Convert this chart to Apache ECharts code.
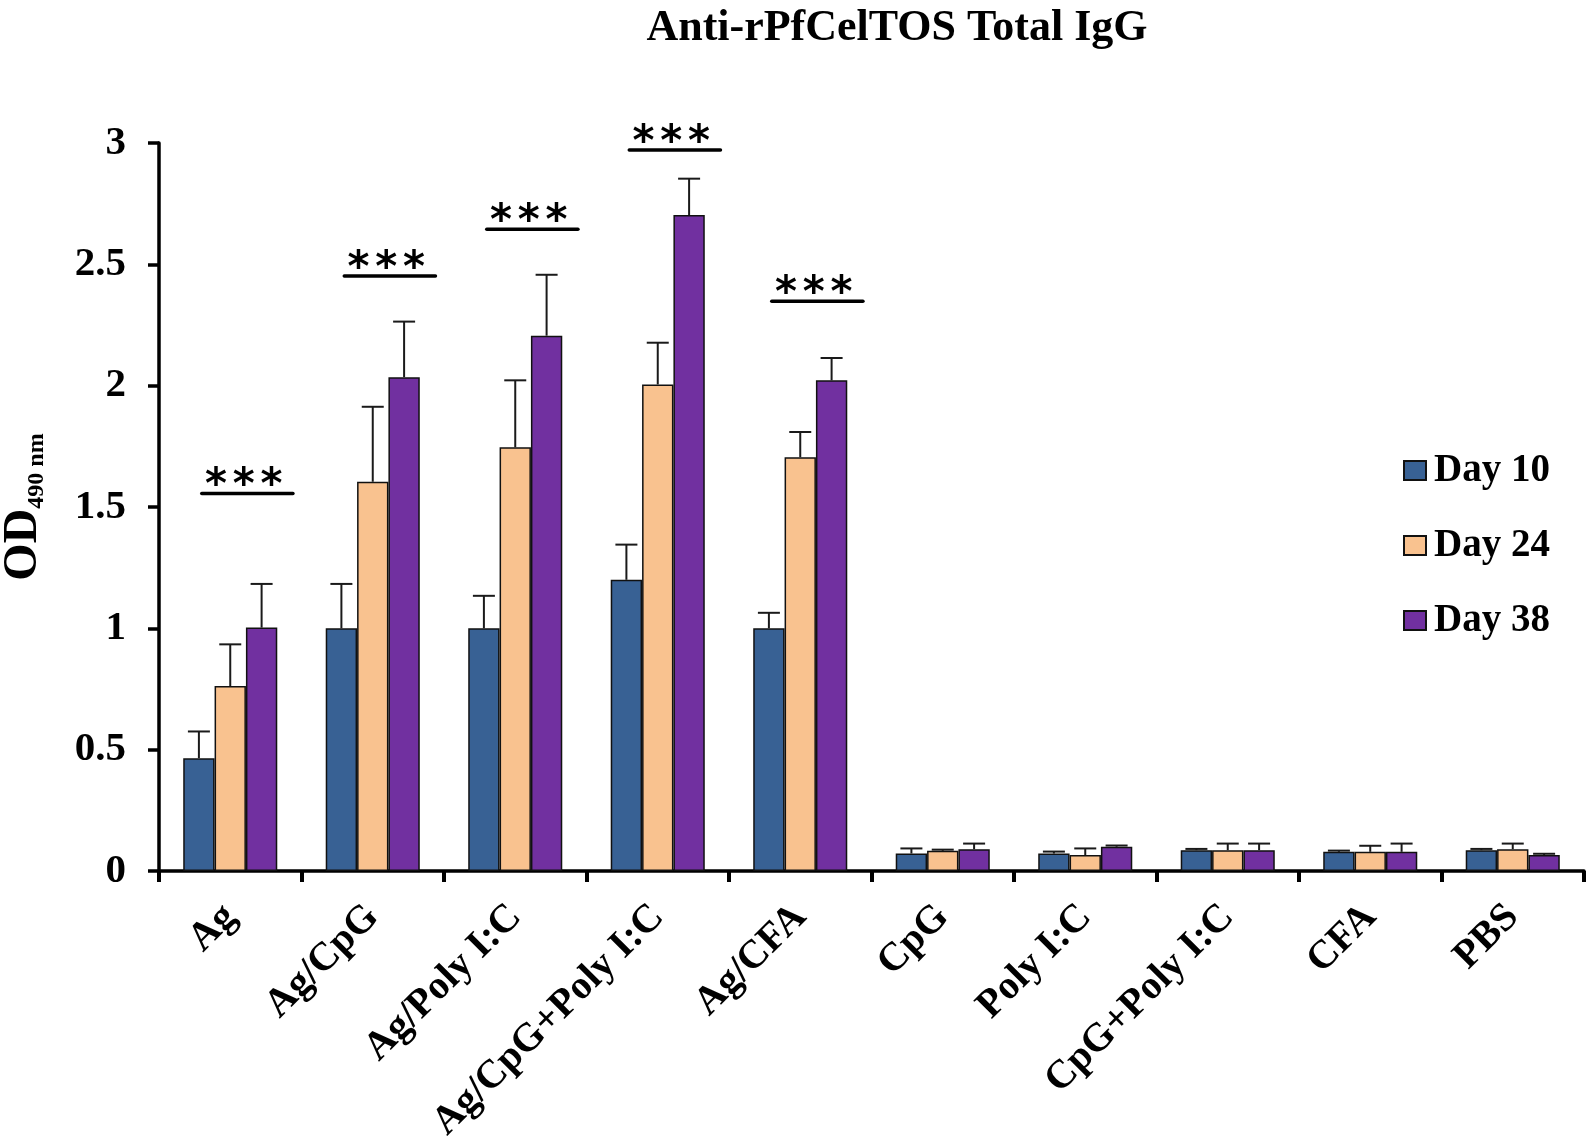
<!DOCTYPE html>
<html>
<head>
<meta charset="utf-8">
<script src="https://cdn.jsdelivr.net/npm/echarts@6/dist/echarts.min.js"></script>
<style>html,body{margin:0;padding:0;background:#fff}#c{width:1590px;height:1141px}</style>
</head>
<body>
<div id="c"></div>
<script>
var categories = ['Ag','Ag/CpG','Ag/Poly I:C','Ag/CpG+Poly I:C','Ag/CFA','CpG','Poly I:C','CpG+Poly I:C','CFA','PBS'];
var seriesNames = ['Day 10','Day 24','Day 38'];
var day10 = [0.465, 1.0, 1.0, 1.2, 1.0, 0.072, 0.072, 0.086, 0.079, 0.086];
var day24 = [0.762, 1.604, 1.746, 2.005, 1.705, 0.083, 0.066, 0.086, 0.079, 0.09];
var day38 = [1.003, 2.035, 2.206, 2.703, 2.022, 0.09, 0.1, 0.086, 0.079, 0.066];
var err10 = [0.11, 0.183, 0.134, 0.145, 0.064, 0.021, 0.008, 0.005, 0.005, 0.005];
var err24 = [0.172, 0.309, 0.276, 0.172, 0.104, 0.005, 0.027, 0.027, 0.025, 0.023];
var err38 = [0.18, 0.229, 0.251, 0.15, 0.092, 0.023, 0.005, 0.027, 0.034, 0.005];
var sigCategories = [0, 1, 2, 3, 4];
var sigLevels = [1.556, 2.452, 2.645, 2.971, 2.348];
var sigLabel = '*';
var yTicks = ['0','0.5','1','1.5','2','2.5','3'];

var colors = ['#386194', '#F9C28F', '#7130A0'];
var means = [day10, day24, day38];
var errs = [err10, err24, err38];
var CAT_GAP = 0.34;
var SERIF = '"Liberation Serif", "Times New Roman", serif';

var chart = echarts.init(document.getElementById('c'));

var series = [];
seriesNames.forEach(function (name, si) {
  series.push({
    name: name,
    type: 'bar',
    data: means[si],
    barGap: '0%',
    barCategoryGap: (CAT_GAP * 100) + '%',
    itemStyle: { color: colors[si], borderColor: '#111', borderWidth: 1.5 },
    z: 2
  });
});
seriesNames.forEach(function (name, si) {
  series.push({
    type: 'custom',
    silent: true,
    z: 3,
    data: categories.map(function (c, i) { return [i, means[si][i], means[si][i] + errs[si][i]]; }),
    renderItem: function (params, api) {
      var band = api.size([1, 0])[0];
      var bw = band * (1 - CAT_GAP) / 3;
      var off = (si - 1) * bw;
      var p0 = api.coord([api.value(0), api.value(1)]);
      var p1 = api.coord([api.value(0), api.value(2)]);
      var x = p0[0] + off;
      var cap = 11;
      var st = { stroke: '#1a1a1a', lineWidth: 2 };
      return {
        type: 'group',
        children: [
          { type: 'line', shape: { x1: x, y1: p0[1], x2: x, y2: p1[1] }, style: st },
          { type: 'line', shape: { x1: x - cap, y1: p1[1], x2: x + cap, y2: p1[1] }, style: st }
        ]
      };
    },
    encode: { x: 0, y: [1, 2] }
  });
});
series.push({
  type: 'custom',
  silent: true,
  z: 4,
  data: sigCategories.map(function (c, i) { return [c, sigLevels[i]]; }),
  renderItem: function (params, api) {
    var band = api.size([1, 0])[0];
    var p = api.coord([api.value(0), api.value(1)]);
    var children = [
      { type: 'line', shape: { x1: p[0] - 0.2 * band, y1: p[1], x2: p[0] + 0.44 * band, y2: p[1] },
        style: { stroke: '#000', lineWidth: 3.5, lineCap: 'round' } }
    ];
    for (var k = -1; k <= 1; k++) {
      children.push({
        type: 'text',
        style: {
          x: p[0] + 0.095 * band + k * 0.195 * band,
          y: p[1] - 6,
          text: sigLabel,
          font: 'bold 42px "DejaVu Sans", sans-serif',
          fill: '#000',
          align: 'center',
          verticalAlign: 'middle'
        }
      });
    }
    return { type: 'group', children: children };
  },
  encode: { x: 0, y: 1 }
});

chart.setOption({
  backgroundColor: '#fff',
  animation: false,
  title: {
    text: 'Anti-rPfCelTOS Total IgG',
    left: 892,
    textAlign: 'center',
    top: 2,
    textStyle: { fontFamily: SERIF, fontWeight: 'bold', fontSize: 44, color: '#000' }
  },
  legend: {
    data: seriesNames,
    orient: 'vertical',
    left: 1398,
    top: 446,
    itemWidth: 22,
    itemHeight: 19,
    itemGap: 36,
    icon: 'rect',
    textStyle: { fontFamily: SERIF, fontWeight: 'bold', fontSize: 39, color: '#000', padding: [0, 0, 0, 3] }
  },
  grid: { left: 159, right: 6, top: 143, bottom: 270, containLabel: false, outerBoundsMode: 'none' },
  xAxis: {
    type: 'category',
    data: categories,
    axisLine: { lineStyle: { color: '#000', width: 3.5 } },
    axisTick: { show: true, length: 11, lineStyle: { color: '#000', width: 4 }, alignWithLabel: false },
    axisLabel: {
      rotate: 45, interval: 0, margin: 40,
      fontFamily: SERIF, fontWeight: 'bold', fontSize: 40, color: '#000'
    }
  },
  yAxis: {
    type: 'value',
    min: 0, max: 3, interval: 0.5,
    splitLine: { show: false },
    axisLine: { show: true, lineStyle: { color: '#000', width: 3.5 } },
    axisTick: { show: true, length: 11, lineStyle: { color: '#000', width: 3.5 } },
    axisLabel: {
      margin: 33,
      fontFamily: SERIF, fontWeight: 'bold', fontSize: 41, color: '#000',
      formatter: function (v) { return yTicks[Math.round(v / 0.5)]; }
    },
    name: '{a|OD}{b|490 nm}',
    nameLocation: 'middle',
    nameGap: 110,
    nameRotate: 90,
    nameTextStyle: {
      rich: {
        a: { fontFamily: SERIF, fontWeight: 'bold', fontSize: 48, color: '#000' },
        b: { fontFamily: SERIF, fontWeight: 'bold', fontSize: 24, color: '#000', verticalAlign: 'bottom', padding: [26, 0, 0, 0] }
      }
    }
  },
  series: series
});
</script>
</body>
</html>
